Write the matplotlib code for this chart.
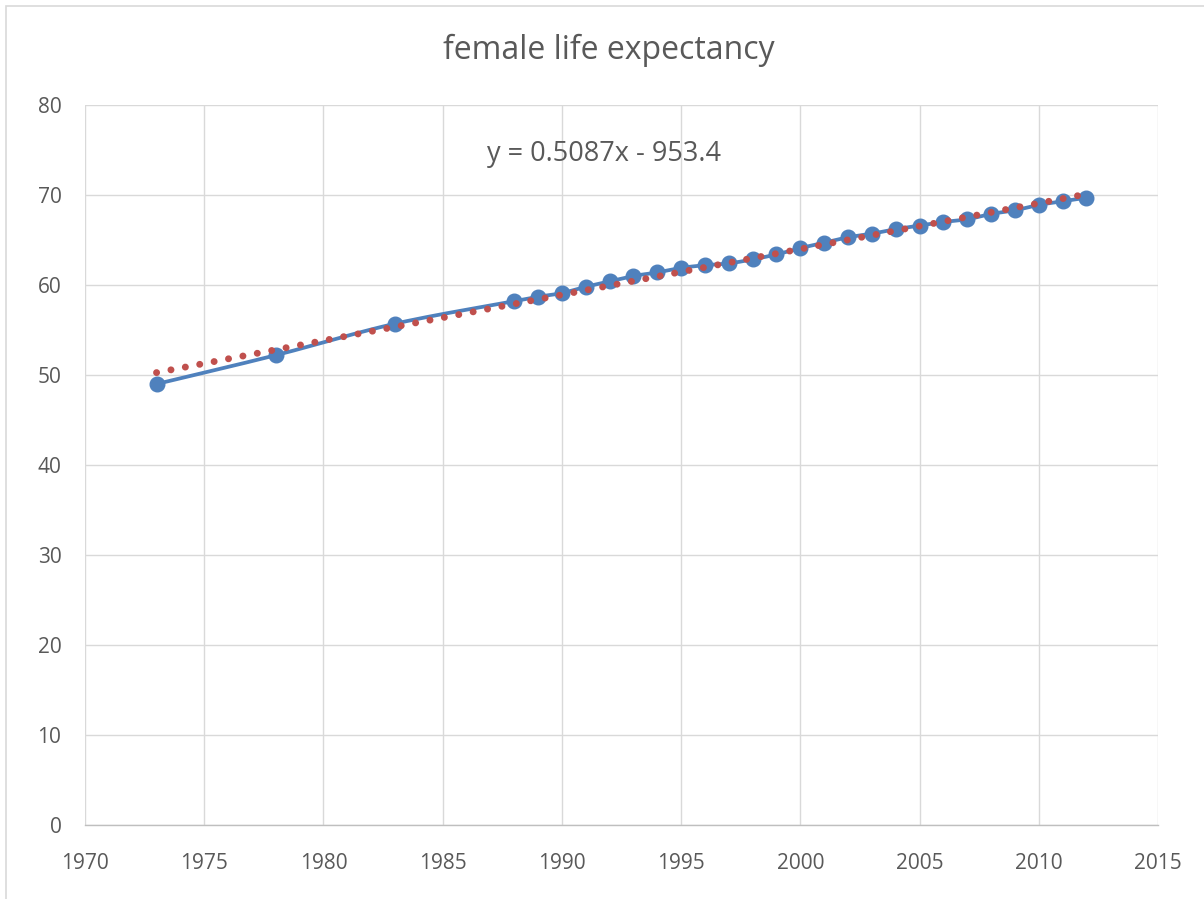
import numpy as np
import matplotlib
matplotlib.use("Agg")
import matplotlib.pyplot as plt
from matplotlib.patches import Rectangle

years = [1973, 1978, 1983, 1988, 1989, 1990, 1991, 1992, 1993, 1994, 1995,
         1996, 1997, 1998, 1999, 2000, 2001, 2002, 2003, 2004, 2005, 2006,
         2007, 2008, 2009, 2010, 2011, 2012]
life = [49.0, 52.2, 55.7, 58.2, 58.7, 59.1, 59.8, 60.4, 61.0, 61.4, 61.9,
        62.2, 62.4, 62.85, 63.4, 64.1, 64.7, 65.3, 65.7, 66.2, 66.6, 67.0,
        67.3, 67.9, 68.3, 68.9, 69.3, 69.7]
slope = 0.5087
intercept = -953.4
title = "female life expectancy"
eq_label = "y = 0.5087x - 953.4"
xticks = [1970, 1975, 1980, 1985, 1990, 1995, 2000, 2005, 2010, 2015]
yticks = [0, 10, 20, 30, 40, 50, 60, 70, 80]

FONT = "Open Sans"
TXT = "#595959"
BLUE = "#4F81BD"
RED = "#C0504D"


def catmull_rom(xs, ys, n=20):
    xs = np.asarray(xs, float)
    ys = np.asarray(ys, float)
    px = np.concatenate([[2 * xs[0] - xs[1]], xs, [2 * xs[-1] - xs[-2]]])
    py = np.concatenate([[2 * ys[0] - ys[1]], ys, [2 * ys[-1] - ys[-2]]])
    outx, outy = [], []
    for i in range(1, len(px) - 2):
        t = np.linspace(0, 1, n, endpoint=False)
        for arr, out in ((px, outx), (py, outy)):
            p0, p1, p2, p3 = arr[i - 1], arr[i], arr[i + 1], arr[i + 2]
            out.extend(0.5 * ((2 * p1) + (-p0 + p2) * t +
                              (2 * p0 - 5 * p1 + 4 * p2 - p3) * t ** 2 +
                              (-p0 + 3 * p1 - 3 * p2 + p3) * t ** 3))
    outx.append(xs[-1])
    outy.append(ys[-1])
    return np.array(outx), np.array(outy)


fig = plt.figure(figsize=(12.04, 8.99), dpi=100)
fig.patches.append(Rectangle((6 / 1204, -0.01), 1.02, 1 - 6 / 899 + 0.01,
                             transform=fig.transFigure, fill=False,
                             edgecolor="#D9D9D9", linewidth=1.2))
ax = fig.add_axes([85 / 1204, 1 - 825 / 899, (1158 - 85) / 1204, (825 - 105) / 899])

sx, sy = catmull_rom(years, life)
ax.plot(sx, sy, color=BLUE, linewidth=2.7, zorder=3, solid_capstyle="round")
ax.plot(years, life, linestyle="none", marker="o", markersize=10.5,
        color=BLUE, zorder=4)

tx = np.array([years[0], years[-1]], float)
ax.plot(tx, slope * tx + intercept, color=RED, linewidth=5.0,
        linestyle=(0, (0.01, 2.1)), dash_capstyle="round", zorder=5)

ax.text(1991.75, 74.5, eq_label, fontsize=19.5, color=TXT, family=FONT,
        ha="center", va="center")

ax.set_xlim(1970, 2015)
ax.set_ylim(0, 80)
ax.set_xticks(xticks)
ax.set_yticks(yticks)
ax.grid(True, color="#D9D9D9", linewidth=1.0)
ax.set_axisbelow(True)
for s in ["top", "right", "left"]:
    ax.spines[s].set_visible(False)
ax.spines["bottom"].set_color("#BFBFBF")
ax.spines["bottom"].set_linewidth(1.0)
ax.tick_params(length=0, labelsize=15, labelcolor=TXT)
ax.tick_params(axis="x", pad=20)
ax.tick_params(axis="y", pad=17)
for lab in ax.get_xticklabels() + ax.get_yticklabels():
    lab.set_family(FONT)

fig.text(609 / 1204, 1 - 50 / 899, title, fontsize=23, color=TXT,
         family=FONT, ha="center", va="center")

fig.savefig("out.png", dpi=100, facecolor="white")
